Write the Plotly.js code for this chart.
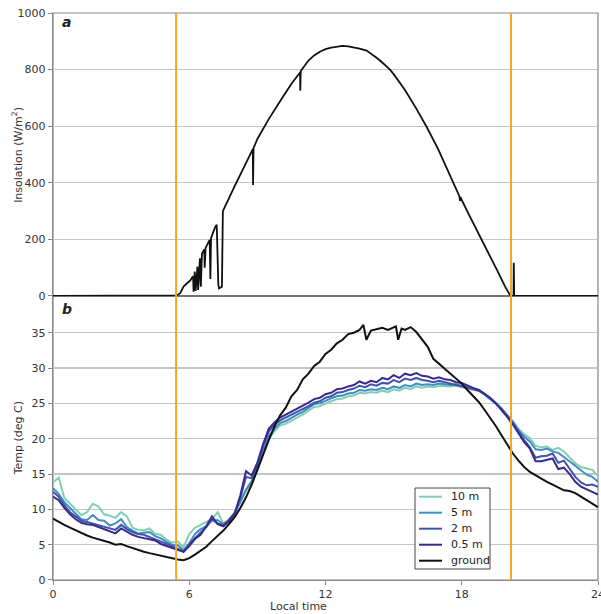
<!DOCTYPE html>
<html>
<head>
<meta charset="utf-8">
<script src="https://cdn.plot.ly/plotly-3.0.1.min.js"></script>
<style>
html,body{margin:0;padding:0;background:#fff;}
#chart{width:601px;height:614px;}
</style>
</head>
<body>
<div id="chart"></div>
<script>
// ---- Panel a: insolation (W/m^2) ----
const insolHours = [0, 5.3, 5.45, 5.6, 5.75, 5.9, 6.05, 6.10, 6.17, 6.19, 6.24, 6.28, 6.33, 6.36, 6.39, 6.44, 6.47, 6.51, 6.56, 6.66, 6.68, 6.72, 6.90, 6.93, 6.96, 7.15, 7.21, 7.28, 7.31, 7.44, 7.48, 8.0, 8.5, 8.80, 8.81, 8.83, 9.0, 9.5, 10.0, 10.5, 10.88, 10.89, 10.91, 11.25, 11.5, 11.75, 12.0, 12.25, 12.5, 12.75, 13.0, 13.25, 13.5, 13.81, 14.0, 14.25, 14.5, 14.84, 15.0, 15.5, 16.0, 16.45, 16.95, 17.3, 17.63, 17.9, 17.92, 17.94, 18.3, 18.75, 19.0, 19.55, 19.9, 20.1, 20.15, 20.28, 20.29, 20.31, 24];
const insolation = [0, 0, 2, 10, 33, 45, 55, 62, 70, 15, 86, 18, 100, 104, 21, 125, 133, 33, 150, 165, 100, 170, 198, 60, 205, 245, 252, 40, 27, 33, 300, 388, 470, 519, 392, 522, 555, 625, 688, 750, 790, 725, 795, 832, 850, 863, 872, 878, 882, 884, 882, 879, 874, 867, 857, 842, 825, 800, 784, 728, 662, 598, 521, 460, 398, 352, 336, 349, 290, 220, 180, 92, 35, 5, 0, 0, 117, 0, 0];

// ---- Panel b: temperatures (deg C) ----
const hours = [0, 0.25, 0.5, 0.75, 1, 1.25, 1.5, 1.75, 2, 2.25, 2.5, 2.75, 3, 3.25, 3.5, 3.75, 4, 4.25, 4.5, 4.75, 5, 5.25, 5.5, 5.75, 6, 6.25, 6.5, 6.75, 7, 7.25, 7.5, 7.75, 8, 8.25, 8.5, 8.75, 9, 9.25, 9.5, 9.75, 10, 10.25, 10.5, 10.75, 11, 11.25, 11.5, 11.75, 12, 12.25, 12.5, 12.75, 13, 13.25, 13.5, 13.75, 14, 14.25, 14.5, 14.75, 15, 15.25, 15.5, 15.75, 16, 16.25, 16.5, 16.75, 17, 17.25, 17.5, 17.75, 18, 18.25, 18.5, 18.75, 19, 19.25, 19.5, 19.75, 20, 20.25, 20.5, 20.75, 21, 21.25, 21.5, 21.75, 22, 22.25, 22.5, 22.75, 23, 23.25, 23.5, 23.75, 24];
const temp10m = [13.8, 14.5, 11.6, 10.8, 10.0, 9.2, 9.6, 10.8, 10.4, 9.3, 9.1, 8.8, 9.6, 9.0, 7.4, 7.1, 7.0, 7.3, 6.5, 6.4, 5.7, 5.3, 5.4, 4.6, 6.5, 7.4, 7.8, 8.2, 8.6, 9.6, 8.0, 8.6, 9.5, 11.0, 12.6, 13.8, 15.5, 18.0, 20.0, 21.0, 21.9, 22.1, 22.6, 23.0, 23.4, 23.9, 24.5, 24.6, 25.0, 25.3, 25.6, 25.7, 26.0, 26.1, 26.5, 26.4, 26.6, 26.5, 26.8, 26.6, 27.0, 26.8, 27.2, 27.0, 27.4, 27.2, 27.4, 27.3, 27.5, 27.4, 27.4, 27.5, 27.3, 27.2, 27.0, 26.8, 26.2, 25.6, 25.0, 24.2, 23.3, 22.5, 21.4, 20.6, 20.1, 19.0, 18.8, 18.9, 18.4, 18.7, 18.2, 17.3, 16.5, 16.0, 15.8, 15.6, 14.7];
const temp5m = [13.0, 12.2, 11.0, 10.2, 9.4, 8.6, 8.5, 9.2, 8.5, 8.4, 7.7, 8.0, 8.6, 7.5, 7.0, 6.6, 6.7, 6.8, 6.2, 5.9, 5.4, 5.0, 4.9, 4.2, 5.2, 6.5, 7.2, 7.6, 8.4, 8.5, 7.9, 8.4, 9.4, 11.0, 12.8, 14.0, 15.8, 18.2, 20.4, 21.4, 22.2, 22.5, 23.0, 23.4, 23.8, 24.3, 24.9, 25.0, 25.4, 25.7, 26.0, 26.1, 26.4, 26.5, 26.9, 26.8, 27.0, 26.9, 27.2, 27.0, 27.4, 27.2, 27.6, 27.4, 27.8, 27.6, 27.7, 27.6, 27.8, 27.7, 27.6, 27.7, 27.5, 27.3, 27.1, 26.9, 26.4, 25.8, 25.1, 24.3, 23.4, 22.4, 21.2, 20.3, 19.6, 18.5, 18.4, 18.6, 18.2, 18.0, 17.4, 16.8, 16.1, 15.5, 14.9, 14.6, 13.9];
const temp2m = [12.5, 11.8, 10.6, 9.6, 9.0, 8.4, 8.2, 8.0, 7.8, 7.6, 7.3, 7.1, 7.8, 7.2, 6.8, 6.5, 6.4, 6.1, 5.8, 5.5, 5.1, 4.8, 4.4, 4.0, 5.1, 5.9, 6.6, 7.5, 8.6, 8.0, 7.8, 8.5, 9.5, 11.6, 14.6, 14.4, 16.4, 18.9, 21.0, 22.0, 22.6, 23.0, 23.3, 23.8, 24.1, 24.6, 25.1, 25.3, 25.8, 26.0, 26.5, 26.6, 26.9, 27.1, 27.5, 27.3, 27.7, 27.5, 27.9, 27.8, 28.3, 28.0, 28.5, 28.3, 28.6, 28.3, 28.2, 28.0, 28.2, 28.0, 27.9, 27.7, 27.5, 27.3, 27.1, 26.8, 26.3, 25.7, 25.0, 24.2, 23.2, 22.2, 21.0, 19.8, 18.8, 17.3, 17.5, 17.6, 17.9, 16.6, 16.9, 15.8, 14.6, 13.8, 13.4, 13.5, 13.2];
const temp05m = [11.8, 11.3, 10.2, 9.3, 8.6, 8.1, 7.9, 7.8, 7.5, 7.2, 6.9, 6.6, 7.3, 6.8, 6.4, 6.1, 5.9, 5.8, 5.6, 5.1, 4.8, 4.5, 4.3, 4.0, 4.8, 5.8, 6.4, 7.6, 9.0, 7.9, 7.6, 8.3, 9.4, 12.0, 15.4, 14.8, 16.6, 19.2, 21.4, 22.3, 23.0, 23.4, 23.8, 24.3, 24.6, 25.1, 25.6, 25.8, 26.3, 26.5, 27.0, 27.1, 27.4, 27.6, 28.1, 27.8, 28.2, 28.0, 28.6, 28.4, 29.0, 28.6, 29.2, 29.0, 29.3, 28.9, 28.8, 28.5, 28.7, 28.4, 28.3, 28.0, 27.9, 27.5, 27.2, 26.9, 26.4, 25.8, 25.0, 24.1, 23.1, 22.0, 20.8, 19.5, 18.6, 16.8, 16.8, 17.0, 17.2, 15.7, 15.9, 15.0, 13.9, 13.2, 12.8, 12.5, 12.1];
const groundHours = [0, 0.25, 0.5, 0.75, 1, 1.25, 1.5, 1.75, 2, 2.25, 2.5, 2.75, 3, 3.25, 3.5, 3.75, 4, 4.25, 4.5, 4.75, 5, 5.25, 5.5, 5.75, 6, 6.25, 6.5, 6.75, 7, 7.25, 7.5, 7.75, 8, 8.25, 8.5, 8.75, 9, 9.25, 9.5, 9.75, 10, 10.25, 10.5, 10.75, 11, 11.25, 11.5, 11.75, 12, 12.25, 12.5, 12.75, 13, 13.25, 13.5, 13.67, 13.8, 14, 14.25, 14.5, 14.75, 15, 15.1, 15.2, 15.35, 15.5, 15.75, 16, 16.25, 16.5, 16.75, 17, 17.25, 17.5, 17.75, 18, 18.25, 18.5, 18.75, 19, 19.25, 19.5, 19.75, 20, 20.25, 20.5, 20.75, 21, 21.25, 21.5, 21.75, 22, 22.25, 22.5, 22.75, 23, 23.25, 23.5, 23.75, 24];
const groundTemp = [8.7, 8.2, 7.8, 7.4, 7.0, 6.6, 6.3, 6.0, 5.8, 5.5, 5.3, 5.0, 5.1, 4.8, 4.5, 4.2, 4.0, 3.8, 3.6, 3.4, 3.2, 3.0, 2.9, 2.8, 3.1, 3.6, 4.1, 4.7, 5.5, 6.2, 7.0, 7.9, 8.9, 10.2, 11.7, 13.5, 15.6, 17.8, 19.8, 21.7, 23.3, 24.4, 26.0, 26.9, 28.4, 29.2, 30.3, 30.9, 32.0, 32.6, 33.5, 34.0, 34.8, 35.0, 35.4, 36.1, 34.0, 35.3, 35.5, 35.7, 35.4, 35.8, 35.9, 34.0, 35.6, 35.4, 35.8, 35.1, 34.0, 33.0, 31.3, 30.6, 29.9, 29.2, 28.5, 27.8, 26.9, 26.0, 25.2, 24.1, 23.0, 21.8, 20.5, 19.2, 17.9, 16.9, 16.0, 15.3, 14.8, 14.3, 13.9, 13.5, 13.1, 12.7, 12.6, 12.3, 11.8, 11.3, 10.8, 10.3];

const seriesNames = ['10 m', '5 m', '2 m', '0.5 m', 'ground'];
const seriesColors = ['#80cfb4', '#3f8ec2', '#3f55a9', '#3b2a8e', '#111111'];
const sunriseSunset = [5.42, 20.17];
const xTicks = [0, 6, 12, 18, 24];
const tempTicks = [0, 5, 10, 15, 20, 25, 30, 35];
const insolTicks = [0, 200, 400, 600, 800, 1000];

const FONT = 'DejaVu Sans, Liberation Sans, sans-serif';
const towerTemps = [temp10m, temp5m, temp2m, temp05m];

// plot area geometry (pixels) for placing the hand-drawn legend
const PL = 53, PR = 598, PT = 13, PB = 580;
const px2x = p => (p - PL) / (PR - PL);
const px2y = p => (PB - p) / (PB - PT);

const traces = [];
traces.push({x: insolHours, y: insolation, xaxis: 'x', yaxis: 'y2', mode: 'lines',
  line: {color: '#111111', width: 1.8}, showlegend: false, hoverinfo: 'skip'});
towerTemps.forEach((t, i) => {
  traces.push({x: hours, y: t, xaxis: 'x', yaxis: 'y', mode: 'lines', name: seriesNames[i],
    line: {color: seriesColors[i], width: 2}, showlegend: false});
});
traces.push({x: groundHours, y: groundTemp, xaxis: 'x', yaxis: 'y', mode: 'lines', name: seriesNames[4],
  line: {color: seriesColors[4], width: 2}, showlegend: false});

const shapes = sunriseSunset.map(h => ({type: 'line', xref: 'x', yref: 'paper', x0: h, x1: h, y0: 0, y1: 1,
  line: {color: '#f5a623', width: 2}, layer: 'above'}));
shapes.push({type: 'rect', xref: 'paper', yref: 'paper', x0: 0, x1: 1, y0: 0, y1: 1,
  line: {color: '#888', width: 1.2}, layer: 'below'});
shapes.push({type: 'line', xref: 'paper', yref: 'paper', x0: 0, x1: 1, y0: 0.5009, y1: 0.5009,
  line: {color: '#444', width: 1.5}, layer: 'below'});

const annotations = [
  {text: '<b><i>a</i></b>', xref: 'paper', yref: 'paper', x: 0.012, y: 0.984, xanchor: 'left', yanchor: 'middle',
    showarrow: false, font: {size: 14, color: '#222'}},
  {text: '<b><i>b</i></b>', xref: 'paper', yref: 'paper', x: 0.012, y: 0.478, xanchor: 'left', yanchor: 'middle',
    showarrow: false, font: {size: 14, color: '#222'}},
  {text: 'Insolation (W/m<sup>2</sup>)', xref: 'paper', yref: 'paper', x: -0.064, y: 0.75, textangle: -90,
    xanchor: 'center', yanchor: 'middle', showarrow: false, font: {size: 11, color: '#333'}},
  {text: 'Temp (deg C)', xref: 'paper', yref: 'paper', x: -0.064, y: 0.25, textangle: -90,
    xanchor: 'center', yanchor: 'middle', showarrow: false, font: {size: 11, color: '#333'}},
  {text: 'Local time', xref: 'paper', yref: 'paper', x: 0.451, y: -0.046, xanchor: 'center', yanchor: 'middle',
    showarrow: false, font: {size: 11, color: '#333'}}
];

// hand-placed legend (box + line samples + labels)
const legTop = 488, legBottom = 569, legLeft = 415, legRight = 490, legFirst = 496.7, legStep = 16;
shapes.push({type: 'rect', xref: 'paper', yref: 'paper', x0: px2x(legLeft), x1: px2x(legRight),
  y0: px2y(legBottom), y1: px2y(legTop), line: {color: '#444', width: 1}, fillcolor: '#ffffff', layer: 'above'});
seriesNames.forEach((nm, i) => {
  const yy = legFirst + i * legStep;
  shapes.push({type: 'line', xref: 'paper', yref: 'paper', x0: px2x(419), x1: px2x(442), y0: px2y(yy), y1: px2y(yy),
    line: {color: seriesColors[i], width: 2}, layer: 'above'});
  annotations.push({text: nm, xref: 'paper', yref: 'paper', x: px2x(449), y: px2y(yy), xanchor: 'left', yanchor: 'middle',
    showarrow: false, font: {size: 11, color: '#222'}});
});

const layout = {
  width: 601, height: 614,
  margin: {l: PL, r: 601 - PR, t: PT, b: 614 - PB},
  paper_bgcolor: '#fff', plot_bgcolor: '#fff',
  font: {family: FONT, size: 11, color: '#333'},
  showlegend: false,
  xaxis: {range: [0, 24], tickvals: xTicks, ticktext: xTicks.map(String), anchor: 'y',
    showgrid: false, zeroline: false, showline: true, linecolor: '#888', linewidth: 1.2,
    ticks: 'outside', ticklen: 4, tickcolor: '#888', tickfont: {size: 11, color: '#333'},
    ticklabeloverflow: 'allow'},
  yaxis: {domain: [0, 0.5009], range: [0, 40.2], tickvals: tempTicks, anchor: 'x',
    showgrid: true, gridcolor: '#c4c4c4', gridwidth: 1.2, zeroline: false,
    showline: true, linecolor: '#888', linewidth: 1.2, ticks: 'outside', ticklen: 4, tickcolor: '#888',
    tickfont: {size: 11, color: '#333'}},
  yaxis2: {domain: [0.5009, 1], range: [0, 1000], tickvals: insolTicks, anchor: 'x',
    showgrid: true, gridcolor: '#c4c4c4', gridwidth: 1.2, zeroline: false,
    showline: true, linecolor: '#888', linewidth: 1.2, ticks: 'outside', ticklen: 4, tickcolor: '#888',
    tickfont: {size: 11, color: '#333'}},
  shapes: shapes,
  annotations: annotations
};

Plotly.newPlot('chart', traces, layout, {displayModeBar: false, staticPlot: true});
</script>
</body>
</html>
